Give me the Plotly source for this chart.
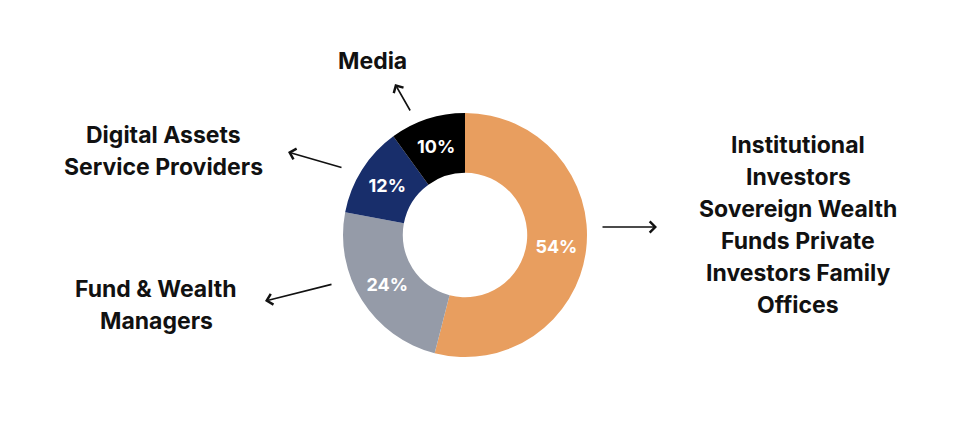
import plotly.graph_objects as go

# ---- data ----
categories = [
    "Institutional Investors Sovereign Wealth Funds Private Investors Family Offices",
    "Fund & Wealth Managers",
    "Digital Assets Service Providers",
    "Media",
]
shares = [54, 24, 12, 10]
colors = ["#E89E5F", "#959BA8", "#182E6B", "#000000"]
label_lines = [
    ["Institutional", "Investors", "Sovereign Wealth", "Funds Private", "Investors Family", "Offices"],
    ["Fund & Wealth", "Managers"],
    ["Digital Assets", "Service Providers"],
    ["Media"],
]

W, H = 966, 426
OFF = 8  # default page body margin of the written html
cx, cy, r = 465 - OFF, 235 - OFF, 122
FONT = "Inter"

fig = go.Figure()
fig.add_trace(go.Pie(
    labels=categories, values=shares, sort=False, direction="clockwise", rotation=0,
    hole=0.51, marker=dict(colors=colors, line=dict(width=0)),
    textinfo="percent", textposition="inside", insidetextorientation="horizontal",
    textfont=dict(family=FONT, size=18, color="white", weight=700),
    domain=dict(x=[(cx - r) / W, (cx + r) / W], y=[(H - cy - r) / H, (H - cy + r) / H]),
    showlegend=False, hoverinfo="label+percent",
))

# label text positions (x center, first-line y) and line spacing
label_pos = [(798, 144), (156, 288), (163, 134), (372, 60)]
line_gap = 31.9
annotations = []
for lines, (lx, ly) in zip(label_lines, label_pos):
    for i, t in enumerate(lines):
        annotations.append(dict(
            x=lx - OFF, y=ly - OFF + 1 + i * line_gap, xref="x", yref="y", text=t, showarrow=False,
            xanchor="center", yanchor="middle",
            font=dict(family=FONT, size=23, color="#111111", weight=700),
        ))

# arrows: (tail, tip)
arrows = [((601, 227), (657, 227)), ((333, 284), (265, 301)),
          ((343, 168), (288, 152)), ((411, 112), (395, 84))]
for (tx, ty), (hx, hy) in arrows:
    annotations.append(dict(
        x=hx - OFF, y=hy - OFF, ax=tx - OFF, ay=ty - OFF, xref="x", yref="y", axref="x", ayref="y",
        text="", showarrow=True, arrowhead=4, arrowsize=1.35, arrowwidth=1.6,
        arrowcolor="#111111", standoff=0, startstandoff=0,
    ))

fig.update_layout(
    width=W, height=H, margin=dict(l=0, r=0, t=0, b=0),
    paper_bgcolor="white", plot_bgcolor="rgba(0,0,0,0)",
    xaxis=dict(range=[0, W], visible=False, fixedrange=True),
    yaxis=dict(range=[H, 0], visible=False, fixedrange=True),
    annotations=annotations, showlegend=False,
)
fig.write_html("out.html")
